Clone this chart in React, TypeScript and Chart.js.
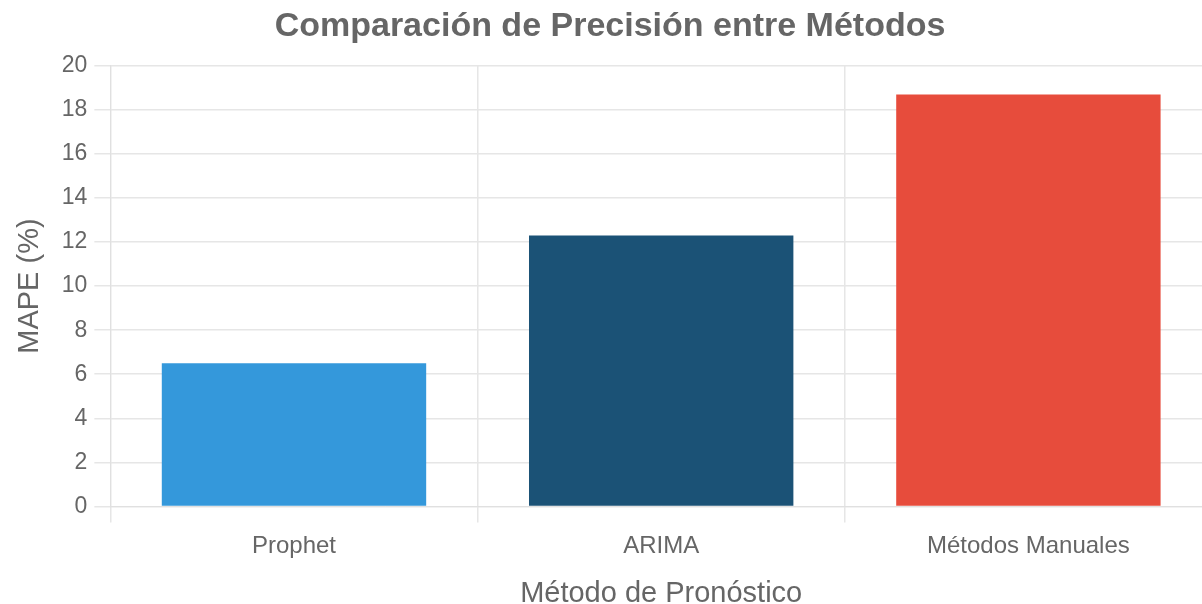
import React, { useEffect, useRef } from "react";
import { Chart, registerables } from "chart.js";

Chart.register(...registerables);

const categories = ["Prophet", "ARIMA", "Métodos Manuales"];
const mapeValues = [6.5, 12.3, 18.7];
const barColors = ["#3498db", "#1b5276", "#e74c3c"];
const titleText = "Comparación de Precisión entre Métodos";
const xTitle = "Método de Pronóstico";
const yTitle = "MAPE (%)";

const FONT = "'Liberation Sans', Arial, sans-serif";

export default function App() {
  const ref = useRef<HTMLCanvasElement | null>(null);

  useEffect(() => {
    document.body.style.margin = "0";
    document.body.style.overflow = "hidden";
    const ctx = ref.current;
    if (!ctx) return;
    const chart = new Chart(ctx, {
      type: "bar",
      data: {
        labels: categories,
        datasets: [
          {
            label: "MAPE",
            data: mapeValues,
            backgroundColor: barColors,
            borderColor: barColors,
            borderWidth: 0,
          },
        ],
      },
      options: {
        responsive: false,
        animation: false,
        devicePixelRatio: 1,
        layout: { padding: { top: 0, right: 0, bottom: 0, left: 8 } },
        plugins: {
          legend: { display: false },
          tooltip: { enabled: false },
          title: {
            display: true,
            text: titleText,
            color: "#666",
            font: { size: 34, weight: "bold", family: FONT },
            padding: { top: 6, bottom: 19 },
          },
        },
        scales: {
          x: {
            grid: { color: "#e6e6e6", tickLength: 16, lineWidth: 1.5 },
            border: { color: "#e0e0e0" },
            ticks: {
              color: "#666",
              font: { size: 24, family: FONT },
              padding: 10,
            },
            title: {
              display: true,
              text: xTitle,
              color: "#666",
              font: { size: 29, family: FONT },
              padding: { top: 5, bottom: -7 },
            },
          },
          y: {
            min: 0,
            max: 20,
            ticks: {
              stepSize: 2,
              color: "#666",
              font: { size: 23, family: FONT },
              padding: 7,
            },
            grid: { color: "#e6e6e6", tickLength: 16, lineWidth: 1.5 },
            border: { color: "#e0e0e0" },
            title: {
              display: true,
              text: yTitle,
              color: "#666",
              font: { size: 29, family: FONT },
              padding: { top: 5, bottom: 7 },
            },
          },
        },
      },
    });
    return () => chart.destroy();
  }, []);

  return (
    <div style={{ width: 1212, height: 604 }}>
      <canvas ref={ref} width={1212} height={604} style={{ display: "block" }} />
    </div>
  );
}
